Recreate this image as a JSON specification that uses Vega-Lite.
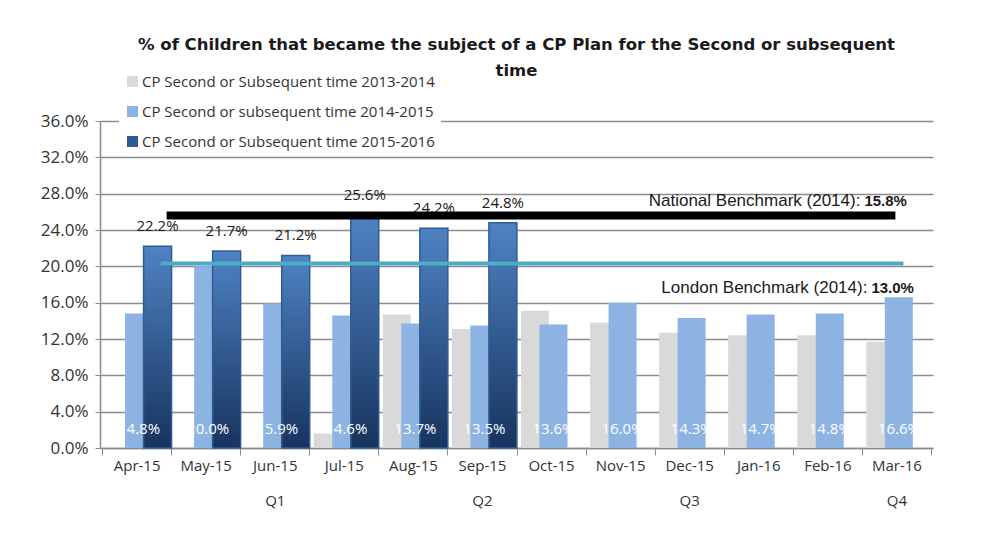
{
  "$schema": "https://vega.github.io/schema/vega-lite/v6.json",
  "width": 833,
  "height": 327,
  "autosize": {"type": "none"},
  "padding": {"left": 100, "top": 121, "right": 61, "bottom": 97},
  "background": "white",
  "title": {
    "text": ["% of Children that became the subject of a CP Plan for the Second or subsequent", "time"],
    "font": "DejaVu Sans",
    "fontWeight": "bold",
    "fontSize": 16.5,
    "color": "#1a1a1a",
    "anchor": "middle",
    "frame": "group",
    "lineHeight": 26,
    "offset": -11
  },
  "config": {
    "view": {"stroke": null},
    "legend": {
      "orient": "none",
      "legendX": 19,
      "legendY": -53,
      "fillColor": "white",
      "padding": 6,
      "symbolType": "square",
      "symbolSize": 121,
      "symbolStrokeWidth": 0,
      "labelOffset": 2,
      "labelFont": "Open Sans",
      "labelFontSize": 15,
      "labelColor": "#333333",
      "rowPadding": 14,
      "labelLimit": 400,
      "title": null
    }
  },
  "datasets": {
    "bars": [
      {"month": "Jul-15", "series": "CP Second or Subsequent time 2013-2014", "value": 1.6},
      {"month": "Aug-15", "series": "CP Second or Subsequent time 2013-2014", "value": 14.7},
      {"month": "Sep-15", "series": "CP Second or Subsequent time 2013-2014", "value": 13.1},
      {"month": "Oct-15", "series": "CP Second or Subsequent time 2013-2014", "value": 15.1},
      {"month": "Nov-15", "series": "CP Second or Subsequent time 2013-2014", "value": 13.8},
      {"month": "Dec-15", "series": "CP Second or Subsequent time 2013-2014", "value": 12.7},
      {"month": "Jan-16", "series": "CP Second or Subsequent time 2013-2014", "value": 12.4},
      {"month": "Feb-16", "series": "CP Second or Subsequent time 2013-2014", "value": 12.4},
      {"month": "Mar-16", "series": "CP Second or Subsequent time 2013-2014", "value": 11.7},
      {"month": "Apr-15", "series": "CP Second or subsequent time 2014-2015", "value": 14.8},
      {"month": "May-15", "series": "CP Second or subsequent time 2014-2015", "value": 20.0},
      {"month": "Jun-15", "series": "CP Second or subsequent time 2014-2015", "value": 15.9},
      {"month": "Jul-15", "series": "CP Second or subsequent time 2014-2015", "value": 14.6},
      {"month": "Aug-15", "series": "CP Second or subsequent time 2014-2015", "value": 13.7},
      {"month": "Sep-15", "series": "CP Second or subsequent time 2014-2015", "value": 13.5},
      {"month": "Oct-15", "series": "CP Second or subsequent time 2014-2015", "value": 13.6},
      {"month": "Nov-15", "series": "CP Second or subsequent time 2014-2015", "value": 16.0},
      {"month": "Dec-15", "series": "CP Second or subsequent time 2014-2015", "value": 14.3},
      {"month": "Jan-16", "series": "CP Second or subsequent time 2014-2015", "value": 14.7},
      {"month": "Feb-16", "series": "CP Second or subsequent time 2014-2015", "value": 14.8},
      {"month": "Mar-16", "series": "CP Second or subsequent time 2014-2015", "value": 16.6},
      {"month": "Apr-15", "series": "CP Second or Subsequent time 2015-2016", "value": 22.2},
      {"month": "May-15", "series": "CP Second or Subsequent time 2015-2016", "value": 21.7},
      {"month": "Jun-15", "series": "CP Second or Subsequent time 2015-2016", "value": 21.2},
      {"month": "Jul-15", "series": "CP Second or Subsequent time 2015-2016", "value": 25.6},
      {"month": "Aug-15", "series": "CP Second or Subsequent time 2015-2016", "value": 24.2},
      {"month": "Sep-15", "series": "CP Second or Subsequent time 2015-2016", "value": 24.8}
    ],
    "bench": [
      {"month": "Mar-16", "start": "Apr-15", "value": 25.6, "name": "National", "label": "National Benchmark (2014):", "bold": "15.8%"},
      {"month": "Mar-16", "start": "Apr-15", "value": 20.3, "name": "London", "label": "London  Benchmark (2014):", "bold": "13.0%"}
    ]
  },
  "encoding": {
    "x": {
      "field": "month",
      "type": "nominal",
      "scale": {
        "domain": ["Apr-15", "May-15", "Jun-15", "Jul-15", "Aug-15", "Sep-15", "Oct-15", "Nov-15", "Dec-15", "Jan-16", "Feb-16", "Mar-16"],
        "paddingInner": 0,
        "paddingOuter": 0.03
      },
      "axis": {
        "title": null,
        "labelAngle": 0,
        "tickBand": "extent",
        "tickSize": 7,
        "tickColor": "#8c8c8c",
        "domainColor": "#8c8c8c",
        "domainWidth": 1.5,
        "labelFont": "Open Sans",
        "labelFontSize": 15,
        "labelColor": "#333333",
        "labelPadding": 3,
        "labelLineHeight": 35,
        "labelExpr": "datum.value == 'Jun-15' ? ['Jun-15', 'Q1'] : datum.value == 'Sep-15' ? ['Sep-15', 'Q2'] : datum.value == 'Dec-15' ? ['Dec-15', 'Q3'] : datum.value == 'Mar-16' ? ['Mar-16', 'Q4'] : datum.value"
      }
    },
    "y": {
      "field": "value",
      "type": "quantitative",
      "stack": null,
      "scale": {"domain": [0, 36]},
      "axis": {
        "title": null,
        "values": [0, 4, 8, 12, 16, 20, 24, 28, 32, 36],
        "labelExpr": "format(datum.value, '.1f') + '%'",
        "grid": true,
        "gridColor": "#8c8c8c",
        "gridWidth": 1.3,
        "domainColor": "#8c8c8c",
        "domainWidth": 1.5,
        "tickColor": "#8c8c8c",
        "tickSize": 5,
        "labelFont": "Open Sans",
        "labelFontSize": 17,
        "labelColor": "#333333",
        "labelPadding": 7
      }
    }
  },
  "layer": [
    {
      "data": {"name": "bars"},
      "transform": [{"filter": "datum.series != 'CP Second or Subsequent time 2015-2016'"}],
      "mark": {"type": "bar", "width": 28},
      "encoding": {
        "xOffset": {
          "field": "series",
          "type": "nominal",
          "scale": {"domain": ["CP Second or Subsequent time 2013-2014", "CP Second or subsequent time 2014-2015", "CP Second or Subsequent time 2015-2016"], "paddingInner": 0, "paddingOuter": 0.367, "align": 0.68}
        },
        "color": {
          "field": "series",
          "type": "nominal",
          "scale": {
            "domain": ["CP Second or Subsequent time 2013-2014", "CP Second or subsequent time 2014-2015", "CP Second or Subsequent time 2015-2016"],
            "range": ["#d9d9d9", "#8db3e2", "#2f5b95"]
          },
          "legend": {}
        }
      }
    },
    {
      "data": {"name": "bars"},
      "transform": [{"filter": "datum.series == 'CP Second or Subsequent time 2015-2016'"}],
      "mark": {
        "type": "bar",
        "width": 28,
        "stroke": "#2f5d96",
        "strokeWidth": 1.5,
        "fill": {"gradient": "linear", "x1": 0, "y1": 0, "x2": 0, "y2": 1, "stops": [{"offset": 0, "color": "#4f82c3"}, {"offset": 1, "color": "#17345e"}]}
      },
      "encoding": {
        "xOffset": {
          "field": "series",
          "type": "nominal",
          "scale": {"domain": ["CP Second or Subsequent time 2013-2014", "CP Second or subsequent time 2014-2015", "CP Second or Subsequent time 2015-2016"], "paddingInner": 0, "paddingOuter": 0.367, "align": 0.68}
        }
      }
    },
    {
      "data": {"name": "bars"},
      "transform": [{"filter": "datum.series == 'CP Second or Subsequent time 2015-2016'"}, {"calculate": "format(datum.value, '.1f') + '%'", "as": "lbl"}],
      "mark": {"type": "text", "dy": -20, "baseline": "middle", "font": "Open Sans", "fontSize": 15, "color": "#1a1a1a"},
      "encoding": {
        "xOffset": {
          "field": "series",
          "type": "nominal",
          "scale": {"domain": ["CP Second or Subsequent time 2013-2014", "CP Second or subsequent time 2014-2015", "CP Second or Subsequent time 2015-2016"], "paddingInner": 0, "paddingOuter": 0.367, "align": 0.68}
        },
        "text": {"field": "lbl", "type": "nominal"}
      }
    },
    {
      "data": {"name": "bars"},
      "transform": [{"filter": "datum.series == 'CP Second or subsequent time 2014-2015'"}, {"calculate": "format(datum.value, '.1f') + '%'", "as": "lbl"}],
      "mark": {"type": "text", "dy": -19, "baseline": "middle", "font": "Open Sans", "fontSize": 15, "color": "white"},
      "encoding": {
        "xOffset": {
          "field": "series",
          "type": "nominal",
          "scale": {"domain": ["CP Second or Subsequent time 2013-2014", "CP Second or subsequent time 2014-2015", "CP Second or Subsequent time 2015-2016"], "paddingInner": 0, "paddingOuter": 0.367, "align": 0.68}
        },
        "y": {"datum": 0, "type": "quantitative"},
        "text": {"field": "lbl", "type": "nominal"}
      }
    },
    {
      "data": {"name": "bench"},
      "transform": [{"filter": "datum.name == 'London'"}],
      "mark": {"type": "rule", "color": "#4bacc6", "strokeWidth": 4, "xOffset": 7, "x2Offset": 24},
      "encoding": {"x2": {"field": "start"}}
    },
    {
      "data": {"name": "bench"},
      "transform": [{"filter": "datum.name == 'National'"}],
      "mark": {"type": "rule", "color": "black", "strokeWidth": 8, "xOffset": -1, "x2Offset": 30},
      "encoding": {"x2": {"field": "start"}}
    },
    {
      "data": {"name": "bench"},
      "transform": [{"filter": "datum.name == 'National'"}],
      "mark": {"type": "text", "align": "right", "baseline": "middle", "dx": -36, "dy": -14, "font": "Liberation Sans", "fontSize": 17, "color": "#1a1a1a"},
      "encoding": {"text": {"field": "label"}}
    },
    {
      "data": {"name": "bench"},
      "transform": [{"filter": "datum.name == 'National'"}],
      "mark": {"type": "text", "align": "left", "baseline": "middle", "dx": -32, "dy": -14, "font": "Liberation Sans", "fontSize": 15, "fontWeight": "bold", "color": "#1a1a1a"},
      "encoding": {"text": {"field": "bold"}}
    },
    {
      "data": {"name": "bench"},
      "transform": [{"filter": "datum.name == 'London'"}],
      "mark": {"type": "text", "align": "right", "baseline": "middle", "dx": -29, "dy": 24, "font": "Liberation Sans", "fontSize": 17, "color": "#1a1a1a"},
      "encoding": {"text": {"field": "label"}}
    },
    {
      "data": {"name": "bench"},
      "transform": [{"filter": "datum.name == 'London'"}],
      "mark": {"type": "text", "align": "left", "baseline": "middle", "dx": -25, "dy": 24, "font": "Liberation Sans", "fontSize": 15, "fontWeight": "bold", "color": "#1a1a1a"},
      "encoding": {"text": {"field": "bold"}}
    }
  ]
}
